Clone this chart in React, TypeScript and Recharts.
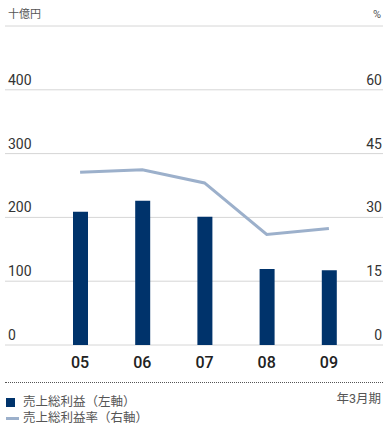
import React from 'react'
import { ComposedChart, Bar, Line, XAxis, YAxis, CartesianGrid } from 'recharts'

// fiscal years (March year-end)
const years = ['05', '06', '07', '08', '09']
// gross profit, billions of yen (left axis)
const grossProfit = [209, 226, 201, 119, 117]
// gross profit margin, % (right axis)
const grossMargin = [40.6, 41.2, 38.1, 26.0, 27.4]

const leftTicks = [0, 100, 200, 300, 400, 500]
const rightTicks = [0, 15, 30, 45, 60, 75]

const BAR_COLOR = '#00336b'
const LINE_COLOR = '#9cb0cb'
const TEXT_COLOR = '#333'
const FONT = 'Roboto, "Noto Sans CJK JP", sans-serif'

const data = years.map((year, i) => ({
  year,
  profit: grossProfit[i],
  margin: grossMargin[i],
}))

const renderLeftTick = (props: any) => {
  const { y, payload } = props
  if (payload.value === 500) return <g />
  return (
    <text x={8} y={y - 5} fontSize={14} fill={TEXT_COLOR} fontFamily={FONT} textAnchor="start">
      {payload.value}
    </text>
  )
}

const renderRightTick = (props: any) => {
  const { y, payload } = props
  if (payload.value === 75) return <g />
  return (
    <text x={382} y={y - 5} fontSize={14} fill={TEXT_COLOR} fontFamily={FONT} textAnchor="end">
      {payload.value}
    </text>
  )
}

const renderYearTick = (props: any) => {
  const { x, y, payload } = props
  return (
    <text x={x} y={y + 15} fontSize={16} fontWeight={500} fill="#222" fontFamily={FONT} textAnchor="middle">
      {payload.value}
    </text>
  )
}

const legendRow: React.CSSProperties = {
  position: 'absolute',
  left: 6,
  display: 'flex',
  alignItems: 'center',
  fontSize: 12.5,
  lineHeight: '14px',
  color: '#555',
}

export default function App() {
  return (
    <div style={{ position: 'absolute', left: 0, top: 0, width: 383, height: 424, background: '#fff', fontFamily: FONT }}>
      <div style={{ position: 'absolute', left: 8, top: 8, fontSize: 11, lineHeight: '14px', color: '#555' }}>十億円</div>
      <div style={{ position: 'absolute', right: 2, top: 8, fontSize: 11, lineHeight: '14px', color: '#555' }}>%</div>

      <ComposedChart
        width={383}
        height={424}
        data={data}
        margin={{ top: 26, right: 0, left: 5, bottom: 49 }}
      >
        <CartesianGrid yAxisId="left" vertical={false} stroke="#d6d6d6" strokeWidth={1} />
        <XAxis
          dataKey="year"
          height={30}
          padding={{ left: 44, right: 23 }}
          axisLine={false}
          tickLine={false}
          tick={renderYearTick}
          interval={0}
        />
        <YAxis
          yAxisId="left"
          domain={[0, 500]}
          ticks={leftTicks}
          interval={0}
          width={1}
          mirror
          axisLine={false}
          tickLine={false}
          tick={renderLeftTick}
        />
        <YAxis
          yAxisId="right"
          orientation="right"
          domain={[0, 75]}
          ticks={rightTicks}
          interval={0}
          width={1}
          mirror
          axisLine={false}
          tickLine={false}
          tick={renderRightTick}
        />
        <Bar yAxisId="left" dataKey="profit" fill={BAR_COLOR} barSize={15} isAnimationActive={false} />
        <Line
          yAxisId="right"
          dataKey="margin"
          stroke={LINE_COLOR}
          strokeWidth={3}
          dot={false}
          activeDot={false}
          type="linear"
          isAnimationActive={false}
        />
      </ComposedChart>

      <div style={{ position: 'absolute', left: 5, top: 382, width: 378, borderTop: '1px dotted #555' }} />
      <div style={{ ...legendRow, top: 395 }}>
        <span style={{ display: 'inline-block', width: 9, height: 9, background: BAR_COLOR, marginRight: 8 }} />
        売上総利益（左軸）
      </div>
      <div style={{ position: 'absolute', right: 2, top: 392, fontSize: 12.5, lineHeight: '14px', color: '#555' }}>年3月期</div>
      <div style={{ ...legendRow, top: 411 }}>
        <span style={{ display: 'inline-block', width: 13, height: 3, background: LINE_COLOR, marginRight: 4 }} />
        売上総利益率（右軸）
      </div>
    </div>
  )
}
